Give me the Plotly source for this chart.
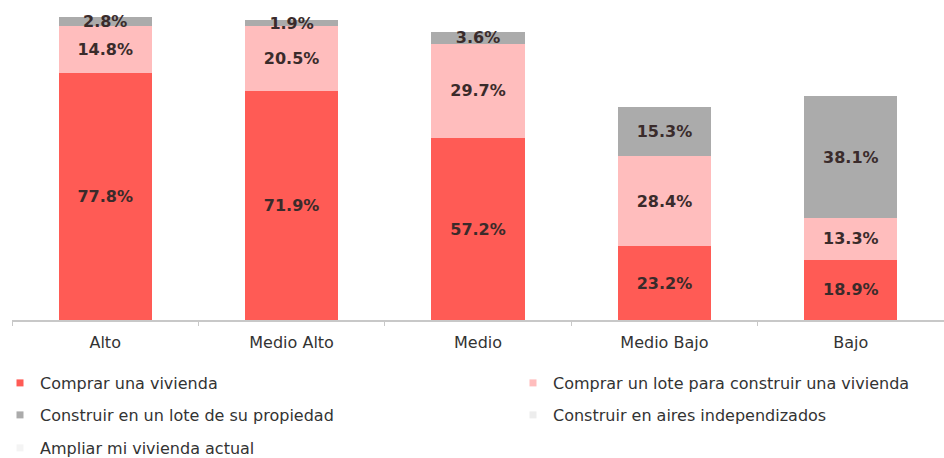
import plotly.graph_objects as go

# Socio-economic level groups
categories = ["Alto", "Medio Alto", "Medio", "Medio Bajo", "Bajo"]

# Share of households (%) by housing plan
comprar_vivienda = [77.8, 71.9, 57.2, 23.2, 18.9]
comprar_lote = [14.8, 20.5, 29.7, 28.4, 13.3]
construir_lote_propio = [2.8, 1.9, 3.6, 15.3, 38.1]
construir_aires = [0, 0, 0, 0, 0]
ampliar_vivienda = [0, 0, 0, 0, 0]

series_names = [
    "Comprar una vivienda",
    "Comprar un lote para construir una vivienda",
    "Construir en un lote de su propiedad",
    "Construir en aires independizados",
    "Ampliar mi vivienda actual",
]
series_values = [comprar_vivienda, comprar_lote, construir_lote_propio,
                 construir_aires, ampliar_vivienda]
series_colors = ["#FF5B55", "#FFBDBD", "#ABABAB", "#EDEDED", "#F4F4F4"]

W, H = 944, 458
text_font = dict(family="DejaVu Sans", size=16, color="#333333")

fig = go.Figure()
for name, vals, col in zip(series_names, series_values, series_colors):
    fig.add_trace(go.Bar(
        x=categories, y=vals, name=name, marker_color=col,
        marker_line_width=0, showlegend=False,
        text=[f"{v:.1f}%" if v > 0 else "" for v in vals],
        textposition="inside", insidetextanchor="middle",
        constraintext="none", textangle=0,
        textfont=dict(family="DejaVu Sans", size=16, color="#3a2b2b", weight="bold"),
        hoverinfo="skip",
    ))

# Legend: one legend box per entry, laid out in two columns
legend_pos = [(40, 383), (553, 383), (40, 415), (553, 415), (40, 448)]
legend_ids = ["legend", "legend2", "legend3", "legend4", "legend5"]
for name, col, lid in zip(series_names, series_colors, legend_ids):
    fig.add_trace(go.Scatter(
        x=[None], y=[None], mode="markers", name=name, legend=lid,
        marker=dict(symbol="square", size=7, color=col),
        showlegend=True,
    ))

legend_layouts = {}
for (tx, ty), lid in zip(legend_pos, legend_ids):
    legend_layouts[lid] = dict(
        xref="container", yref="container",
        x=(tx - 40) / W, y=1 - ty / H,
        xanchor="left", yanchor="middle",
        bgcolor="rgba(0,0,0,0)", borderwidth=0,
        font=text_font,
    )

fig.update_layout(
    width=W, height=H,
    barmode="stack", bargap=0.5,
    margin=dict(l=12, r=0, t=2, b=138, autoexpand=False),
    paper_bgcolor="white", plot_bgcolor="white",
    xaxis=dict(
        showline=True, linecolor="#C8C8C8", linewidth=1.5,
        ticks="outside", tickson="boundaries", ticklen=4, tickcolor="#C8C8C8",
        tickfont=text_font, ticklabelstandoff=7, showgrid=False,
    ),
    yaxis=dict(range=[0, 100], visible=False),
    **legend_layouts,
)

fig.write_html("out.html")
